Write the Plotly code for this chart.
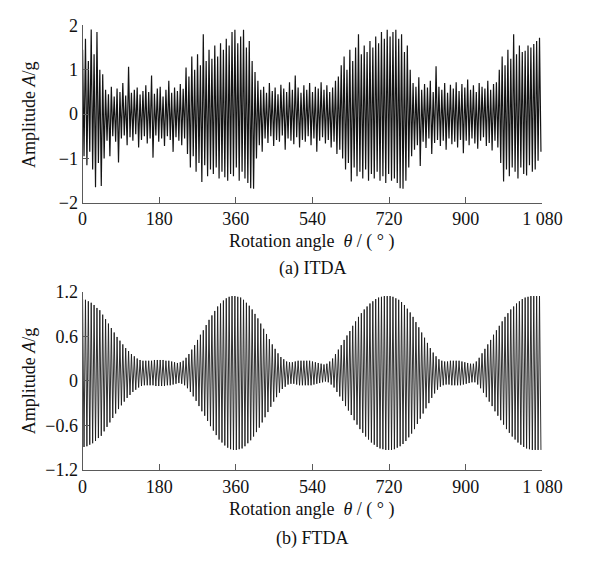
import plotly.graph_objects as go

# ---------------- data ----------------
N_CYCLES = 160                      # carrier cycles across 0..1080 deg
X_TICKS = [0, 180, 360, 540, 720, 900, 1080]
X_TICK_TEXT = ["0", "180", "360", "540", "720", "900", "1 080"]
YA_TICKS = [-2, -1, 0, 1, 2]
YA_TICK_TEXT = ["\u22122", "\u22121", "0", "1", "2"]
YB_TICKS = [-1.2, -0.6, 0, 0.6, 1.2]
YB_TICK_TEXT = ["\u22121.2", "\u22120.6", "0", "0.6", "1.2"]

# (a) ITDA: positive and negative peak of each carrier cycle
itda_top = [1.45, 1.70, 1.20, 1.91, 1.35, 1.85, 1.00, 0.90,
            0.55, 0.45, 0.62, 0.40, 0.58, 0.50, 0.70, 0.42, 1.07, 0.48,
            0.55, 0.60, 0.44, 0.52, 0.65, 0.50, 0.87, 0.46, 0.58, 0.62,
            0.40, 0.55, 0.75, 0.48, 0.60, 0.52, 0.68, 0.57,
            1.05, 0.85, 1.30, 1.00, 1.35, 1.10, 1.80, 1.20, 1.45, 1.25,
            1.55, 1.30, 1.60, 1.45, 1.70, 1.55, 1.85, 1.90, 1.60, 1.75,
            1.90, 1.50, 1.65, 1.20, 0.95,
            0.75, 0.55, 0.62, 0.48, 0.70, 0.52, 0.60, 0.45, 0.66, 0.58,
            0.50, 0.72, 0.55, 0.87, 0.60, 0.48, 0.65, 0.55, 0.70, 0.50,
            0.62, 0.58, 0.72, 0.55, 0.65, 0.50, 0.60, 0.75, 0.85,
            1.10, 1.30, 1.00, 1.45, 1.20, 1.50, 1.80, 1.35, 1.55, 1.40,
            1.65, 1.50, 1.75, 1.60, 1.85, 1.70, 1.90, 1.75, 1.85, 1.90,
            1.70, 1.80, 1.40, 1.55, 1.00,
            0.70, 0.62, 0.83, 0.55, 0.68, 0.60, 0.75, 0.50, 1.08, 0.62,
            0.55, 0.70, 0.48, 0.66, 0.58, 0.72, 0.52, 0.68, 0.60, 0.78,
            0.55, 0.65, 0.50, 0.70, 0.62, 0.58, 0.75, 0.55, 0.68, 0.72,
            1.00, 1.30, 1.10, 1.45, 1.25, 1.80, 1.35, 1.55, 1.40, 1.43,
            1.55, 1.50, 1.58, 1.65, 1.72]
itda_bot = [-0.95, -1.15, -0.85, -1.25, -1.65, -1.10, -1.62, -1.00,
            -0.60, -0.95, -0.50, -0.62, -1.09, -0.55, -0.48, -0.70, -0.52, -0.60,
            -0.45, -0.75, -0.58, -0.50, -0.66, -0.55, -0.98, -0.48, -0.62, -0.55,
            -0.72, -0.50, -0.58, -0.85, -0.52, -0.60, -0.70, -0.55,
            -0.90, -1.20, -0.95, -1.30, -1.10, -1.53, -1.15, -1.40, -1.25, -1.35,
            -1.20, -1.45, -1.30, -1.42, -1.50, -1.35, -1.40, -1.20, -1.50, -1.30,
            -1.45, -1.55, -1.67, -1.68, -1.00,
            -0.70, -0.85, -0.55, -0.65, -0.50, -0.72, -0.58, -0.62, -0.48, -0.80,
            -0.55, -0.60, -0.68, -0.52, -0.75, -0.58, -0.62, -0.50, -0.70, -0.55,
            -0.85, -0.60, -0.52, -0.66, -0.58, -0.75, -0.62, -0.90, -0.80,
            -1.00, -1.25, -1.10, -1.52, -1.20, -1.40, -1.30, -1.45, -1.25, -1.50,
            -1.35, -1.45, -1.30, -1.50, -1.40, -1.55, -1.35, -1.50, -1.45, -1.55,
            -1.67, -1.68, -1.50, -1.20, -0.95,
            -0.80, -0.70, -1.17, -0.62, -0.76, -0.55, -0.90, -0.65, -0.58, -0.72,
            -0.60, -0.80, -0.55, -0.68, -0.62, -0.75, -0.58, -0.88, -0.60, -0.70,
            -0.55, -0.66, -0.78, -0.60, -0.52, -0.72, -0.65, -0.82, -0.60, -0.75,
            -1.10, -1.52, -1.25, -1.40, -1.20, -1.30, -1.45, -1.20, -1.35, -1.38,
            -1.15, -1.30, -1.25, -1.05, -0.85]

# (b) FTDA: positive and negative peak of each carrier cycle
ftda_top = [1.10, 1.09, 1.07, 1.05, 1.02, 0.98, 0.95, 0.89, 0.83, 0.77,
            0.71, 0.65, 0.59, 0.54, 0.49, 0.44, 0.40, 0.36, 0.33, 0.30,
            0.28, 0.27, 0.27, 0.27, 0.27, 0.28, 0.28, 0.28, 0.28, 0.27,
            0.27, 0.26, 0.25, 0.24, 0.25, 0.27, 0.31, 0.36, 0.42, 0.48,
            0.55, 0.62, 0.68, 0.75, 0.82, 0.88, 0.94, 1.00, 1.04, 1.08,
            1.11, 1.13, 1.14, 1.14, 1.13, 1.12, 1.09, 1.05, 1.01, 0.96,
            0.90, 0.84, 0.77, 0.70, 0.63, 0.56, 0.49, 0.43, 0.37, 0.32,
            0.29, 0.26, 0.25, 0.25, 0.26, 0.27, 0.27, 0.27, 0.27, 0.27,
            0.26, 0.25, 0.24, 0.23, 0.22, 0.23, 0.26, 0.30, 0.36, 0.42,
            0.48, 0.55, 0.61, 0.67, 0.74, 0.80, 0.86, 0.91, 0.96, 1.00,
            1.04, 1.07, 1.10, 1.12, 1.13, 1.14, 1.14, 1.14, 1.13, 1.11,
            1.09, 1.06, 1.02, 0.97, 0.92, 0.86, 0.79, 0.72, 0.65, 0.58,
            0.51, 0.44, 0.38, 0.33, 0.29, 0.27, 0.26, 0.26, 0.27, 0.27,
            0.27, 0.27, 0.26, 0.25, 0.24, 0.23, 0.23, 0.26, 0.31, 0.37,
            0.43, 0.49, 0.55, 0.62, 0.68, 0.74, 0.80, 0.86, 0.91, 0.96,
            1.00, 1.04, 1.07, 1.10, 1.12, 1.13, 1.14, 1.14, 1.14, 1.14]
ftda_bot = [-0.89, -0.88, -0.86, -0.84, -0.81, -0.77, -0.74, -0.68, -0.62, -0.56,
            -0.50, -0.44, -0.38, -0.33, -0.28, -0.23, -0.19, -0.15, -0.12, -0.09,
            -0.07, -0.06, -0.06, -0.06, -0.06, -0.07, -0.07, -0.07, -0.07, -0.06,
            -0.06, -0.05, -0.04, -0.03, -0.04, -0.06, -0.10, -0.15, -0.21, -0.27,
            -0.34, -0.41, -0.47, -0.54, -0.61, -0.67, -0.73, -0.79, -0.83, -0.87,
            -0.90, -0.92, -0.93, -0.93, -0.92, -0.91, -0.88, -0.84, -0.80, -0.75,
            -0.69, -0.63, -0.56, -0.49, -0.42, -0.35, -0.28, -0.22, -0.16, -0.11,
            -0.08, -0.05, -0.04, -0.04, -0.05, -0.06, -0.06, -0.06, -0.06, -0.06,
            -0.05, -0.04, -0.03, -0.02, -0.01, -0.02, -0.05, -0.09, -0.15, -0.21,
            -0.27, -0.34, -0.40, -0.46, -0.53, -0.59, -0.65, -0.70, -0.75, -0.79,
            -0.83, -0.86, -0.89, -0.91, -0.92, -0.93, -0.93, -0.93, -0.92, -0.90,
            -0.88, -0.85, -0.81, -0.76, -0.71, -0.65, -0.58, -0.51, -0.44, -0.37,
            -0.30, -0.23, -0.17, -0.12, -0.08, -0.06, -0.05, -0.05, -0.06, -0.06,
            -0.06, -0.06, -0.05, -0.04, -0.03, -0.02, -0.02, -0.05, -0.10, -0.16,
            -0.22, -0.28, -0.34, -0.41, -0.47, -0.53, -0.59, -0.65, -0.70, -0.75,
            -0.79, -0.83, -0.86, -0.89, -0.91, -0.92, -0.93, -0.93, -0.93, -0.93]

# ---------------- build series ----------------
STEP = 1080.0 / N_CYCLES


def zigzag(tops, bots):
    xs, ys = [], []
    for i, (t, b) in enumerate(zip(tops, bots)):
        xs += [i * STEP, i * STEP + STEP / 2]
        ys += [t, b]
    return xs, ys


xa, ya = zigzag(itda_top, itda_bot)
xb, yb = zigzag(ftda_top, ftda_bot)

FONT = "Liberation Serif, Times New Roman, serif"
AX = "#5a5a5a"

fig = go.Figure()
fig.add_trace(go.Scatter(x=xa, y=ya, mode="lines", line=dict(color="#141414", width=1.2),
                         xaxis="x", yaxis="y", showlegend=False, hoverinfo="skip"))
fig.add_trace(go.Scatter(x=xb, y=yb, mode="lines", line=dict(color="#1b1b1b", width=0.9),
                         xaxis="x2", yaxis="y2", showlegend=False, hoverinfo="skip"))

W, H = 594, 562
xdom = [81 / W, 561 / W]
ya_dom = [1 - 200 / H, 1 - 16 / H]
yb_dom = [1 - 477 / H, 1 - 292 / H]

common_x = dict(range=[0, 1080], tickvals=X_TICKS, ticktext=X_TICK_TEXT,
                showgrid=False, zeroline=False, showline=True, linecolor=AX,
                linewidth=1, ticks="inside", ticklen=6, tickcolor=AX,
                tickfont=dict(family=FONT, size=18, color="#111"), domain=xdom)
common_y = dict(showgrid=False, zeroline=False, showline=True, linecolor=AX,
                linewidth=1, ticks="inside", ticklen=6, tickcolor=AX,
                tickfont=dict(family=FONT, size=18, color="#111"))

fig.update_layout(
    width=W, height=H,
    margin=dict(l=0, r=0, t=0, b=0),
    paper_bgcolor="white", plot_bgcolor="white",
    xaxis=dict(**common_x, anchor="y"),
    yaxis=dict(**common_y, range=[-2, 2], tickvals=YA_TICKS,
               ticktext=YA_TICK_TEXT, domain=ya_dom, anchor="x"),
    xaxis2=dict(**common_x, anchor="y2"),
    yaxis2=dict(**common_y, range=[-1.2, 1.2], tickvals=YB_TICKS,
                ticktext=YB_TICK_TEXT, domain=yb_dom, anchor="x2"),
)

tfont = dict(family=FONT, size=18, color="#111")
anns = [
    dict(text="Amplitude <i>A</i>/g", x=25 / W, y=1 - 108 / H, textangle=-90),
    dict(text="Amplitude <i>A</i>/g", x=25 / W, y=1 - 384 / H, textangle=-90),
    dict(text="Rotation angle  <i>θ</i> / ( ° )", x=321 / W, y=1 - 240 / H),
    dict(text="Rotation angle  <i>θ</i> / ( ° )", x=321 / W, y=1 - 518 / H),
    dict(text="(a) ITDA", x=321 / W, y=1 - 268 / H),
    dict(text="(b) FTDA", x=321 / W, y=1 - 548 / H),
]
for a in anns:
    fig.add_annotation(xref="paper", yref="paper", showarrow=False,
                       xanchor="center", yanchor="middle", font=tfont, **a)

fig.write_html("out.html")
